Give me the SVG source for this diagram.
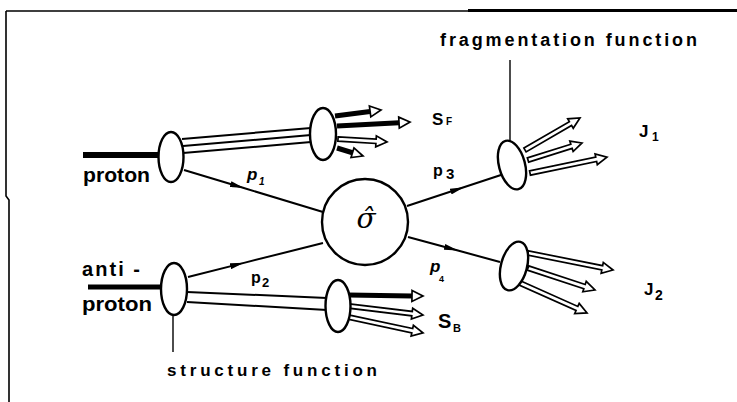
<svg xmlns="http://www.w3.org/2000/svg" width="737" height="402" viewBox="0 0 737 402">
  <style>
    .frame { fill: none; stroke: #000; stroke-width: 1.6; }
    .beam { stroke: #000; fill: none; }
    .line { stroke: #000; stroke-width: 2; fill: none; }
    .prop { stroke: #000; stroke-width: 2; fill: none; marker-mid: url(#tri); }
    .callout { stroke: #000; stroke-width: 1.4; fill: none; }
    .arr { fill: #fff; stroke: #000; stroke-width: 1.7; stroke-linejoin: miter; }
    .shaft { stroke: #000; stroke-width: 5; fill: none; }
    .blob { fill: #fff; stroke: #000; stroke-width: 2.4; }
    .lbl { font-family: "Liberation Sans", Arial, sans-serif; font-weight: bold; fill: #000; }
    .mom { font-family: "Liberation Sans", Arial, sans-serif; font-weight: bold; fill: #000; }
    .sig { font-family: "DejaVu Serif", "Liberation Serif", serif; font-style: italic; fill: #000; }
  </style>
  <defs>
    <marker id="tri" viewBox="0 0 14 6" refX="13" refY="3" markerWidth="14" markerHeight="6" markerUnits="userSpaceOnUse" orient="auto">
      <path d="M0,0 L14,3 L0,6 Z" fill="#000"/>
    </marker>
  </defs>

  <rect width="737" height="402" fill="#fff"/>

  <!-- frame: top and left rules only -->
  <path class="frame" d="M6,11 H737 M6,11 V196 L9,200 V402"/>
  <path d="M468,10.5 H737" stroke="#000" stroke-width="3"/>

  <g id="connectors">
    <!-- incoming beams -->
    <path class="beam" stroke-width="6" d="M83,155 H160"/>
    <path class="beam" stroke-width="5" d="M88,287 H162"/>

    <!-- spectator bundles -->
    <path class="line" stroke-width="2.4" d="M182,139 L311,128"/>
    <path class="line" d="M183,146 L311,135"/>
    <path class="line" d="M183,153 L311,142"/>
    <path class="line" stroke-width="2.6" d="M187,292 L327,298"/>
    <path class="line" d="M187,302 L327,310"/>

    <!-- parton momenta -->
    <path class="prop" d="M184,170 L243,187.8 L323,212"/>
    <path class="prop" d="M188,277 L243,263.1 L323,243"/>
    <path class="prop" d="M407,206 L463,187.5 L507,173"/>
    <path class="prop" d="M408,237 L457,250.3 L500,262"/>

    <!-- callout lines -->
    <path class="callout" d="M510,60 V157"/>
    <path class="callout" d="M173,297 V352"/>

    <!-- spectator fragments, forward side -->
    <g transform="translate(335,116) rotate(-7.4)">
      <path class="shaft" d="M0,0 H35.4"/>
      <path class="arr" d="M35.4,-5.5 L46.4,0 L35.4,5.5 Z"/>
    </g>
    <g transform="translate(337,126) rotate(-3.1)">
      <path class="shaft" d="M0,0 H62.1"/>
      <path class="arr" d="M62.1,-5.5 L73.1,0 L62.1,5.5 Z"/>
    </g>
    <g transform="translate(338,139) rotate(3.5)">
      <path class="arr" d="M0,-2.2 H38.1 V-5.5 L49.1,0 L38.1,5.5 V2.2 H0 Z"/>
    </g>
    <g transform="translate(337,148) rotate(17.1)">
      <path class="shaft" d="M0,0 H16.2"/>
      <path class="arr" d="M16.2,-5 L27.2,0 L16.2,5 Z"/>
    </g>

    <!-- spectator fragments, backward side -->
    <g transform="translate(348,295) rotate(0.8)">
      <path class="shaft" d="M0,0 H64"/>
      <path class="arr" d="M64,-5.5 L75,0 L64,5.5 Z"/>
    </g>
    <g transform="translate(349,306) rotate(6.9)">
      <path class="arr" d="M0,-2.2 H63.5 V-5.5 L74.5,0 L63.5,5.5 V2.2 H0 Z"/>
    </g>
    <g transform="translate(348,317) rotate(12)">
      <path class="arr" d="M0,-2.2 H65.7 V-5.5 L76.7,0 L65.7,5.5 V2.2 H0 Z"/>
    </g>

    <!-- jet 1 hadrons -->
    <g transform="translate(525,150) rotate(-30.2)">
      <path class="arr" d="M0,-2.2 H52.6 V-5.5 L63.6,0 L52.6,5.5 V2.2 H0 Z"/>
    </g>
    <g transform="translate(528,160) rotate(-17.5)">
      <path class="arr" d="M0,-2.2 H45.6 V-5.5 L56.6,0 L45.6,5.5 V2.2 H0 Z"/>
    </g>
    <g transform="translate(530,173) rotate(-11.7)">
      <path class="arr" d="M0,-2.2 H67.6 V-5.5 L78.6,0 L67.6,5.5 V2.2 H0 Z"/>
    </g>

    <!-- jet 2 hadrons -->
    <g transform="translate(528,253) rotate(11.3)">
      <path class="arr" d="M0,-2.2 H75.7 V-5.5 L86.7,0 L75.7,5.5 V2.2 H0 Z"/>
    </g>
    <g transform="translate(528,268) rotate(18.2)">
      <path class="arr" d="M0,-2.2 H59.5 V-5.5 L70.5,0 L59.5,5.5 V2.2 H0 Z"/>
    </g>
    <g transform="translate(520,283) rotate(24.1)">
      <path class="arr" d="M0,-2.2 H62.4 V-5.5 L73.4,0 L62.4,5.5 V2.2 H0 Z"/>
    </g>
  </g>

  <!-- momentum labels -->
  <g id="momenta">
    <text class="mom" x="247" y="180" font-size="17" font-style="italic">p</text>
    <text class="mom" x="259" y="185" font-size="10" font-style="italic">1</text>
    <text class="mom" x="251" y="283" font-size="16">p</text>
    <text class="mom" x="262" y="287" font-size="13">2</text>
    <text class="mom" x="433" y="176" font-size="16">p</text>
    <text class="mom" x="446" y="179" font-size="15">3</text>
    <text class="mom" x="430" y="272" font-size="17" font-style="italic">p</text>
    <text class="mom" x="439" y="282" font-size="9">4</text>
  </g>

  <g id="proton">
    <ellipse class="blob" cx="171" cy="157" rx="12.5" ry="25"/>
    <text class="lbl" x="83" y="182" font-size="20" textLength="67" lengthAdjust="spacingAndGlyphs">proton</text>
  </g>

  <g id="antiproton">
    <ellipse class="blob" cx="174" cy="289" rx="13" ry="26"/>
    <text class="lbl" x="82" y="276" font-size="20" textLength="58" lengthAdjust="spacing">anti -</text>
    <text class="lbl" x="82" y="311" font-size="20" textLength="70" lengthAdjust="spacingAndGlyphs">proton</text>
    <text class="lbl" x="167" y="376" font-size="17" textLength="210" lengthAdjust="spacing">structure function</text>
  </g>

  <g id="spectator-forward">
    <ellipse class="blob" cx="323" cy="134" rx="13" ry="26"/>
    <text class="lbl" x="432" y="125" font-size="17">S</text>
    <text class="lbl" x="446" y="125" font-size="10">F</text>
  </g>

  <g id="spectator-backward">
    <ellipse class="blob" cx="338" cy="306" rx="12.5" ry="26"/>
    <text class="lbl" x="438" y="328" font-size="20">S</text>
    <text class="lbl" x="453" y="332" font-size="11">B</text>
  </g>

  <g id="hard-scattering">
    <circle class="blob" cx="365" cy="222" r="43"/>
    <text class="sig" x="366" y="228" font-size="28" text-anchor="middle">σ̂</text>
  </g>

  <g id="jet1">
    <ellipse class="blob" cx="512" cy="165" rx="13" ry="25" transform="rotate(-15 512 165)"/>
    <text class="lbl" x="440" y="46" font-size="18" textLength="257" lengthAdjust="spacing">fragmentation function</text>
    <text class="lbl" x="639" y="137" font-size="17">J</text>
    <text class="lbl" x="652" y="141" font-size="12">1</text>
  </g>

  <g id="jet2">
    <ellipse class="blob" cx="514" cy="266" rx="13" ry="25" transform="rotate(15 514 266)"/>
    <text class="lbl" x="644" y="295" font-size="17">J</text>
    <text class="lbl" x="655" y="300" font-size="14">2</text>
  </g>
</svg>
